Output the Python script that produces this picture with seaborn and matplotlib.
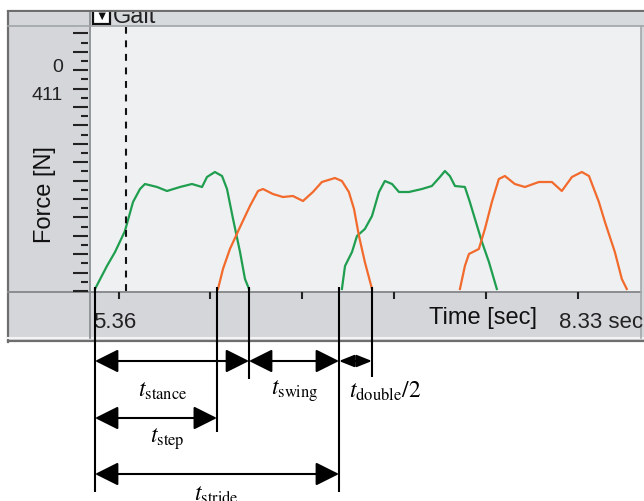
import matplotlib
matplotlib.use("Agg")
import pandas as pd
import matplotlib.pyplot as plt
from matplotlib.patches import Rectangle
from matplotlib.ticker import MultipleLocator
import seaborn as sns


# ── DATA ─────────────────────────────────────────────────────
# vertical ground reaction force
# time in seconds, force in N (one series per foot contact)
left1_time = [5.371, 5.436, 5.480, 5.534, 5.578, 5.616, 5.643, 5.709, 5.763, 5.834,
              5.899, 5.954, 5.981, 6.024, 6.063, 6.090, 6.123, 6.161, 6.188, 6.210]
left1_force = [8, 100, 156, 240, 356, 408, 428, 416, 400, 416,
               428, 416, 456, 476, 460, 408, 288, 156, 48, 8]

right1_time = [6.041, 6.068, 6.106, 6.161, 6.215, 6.259, 6.286, 6.340, 6.395, 6.449,
               6.504, 6.558, 6.607, 6.678, 6.716, 6.754, 6.782, 6.809, 6.841, 6.880]
right1_force = [8, 88, 168, 256, 340, 400, 408, 388, 376, 380,
                360, 396, 436, 452, 440, 396, 328, 220, 116, 8]

left2_time = [6.716, 6.733, 6.771, 6.798, 6.841, 6.880, 6.918, 6.950, 6.989, 7.027,
              7.081, 7.152, 7.206, 7.250, 7.277, 7.304, 7.332, 7.386, 7.413, 7.441,
              7.479, 7.517, 7.560]
left2_force = [8, 100, 156, 220, 248, 300, 396, 440, 428, 396,
               396, 408, 420, 456, 480, 460, 420, 416, 356, 288,
               196, 116, 8]

right2_time = [7.359, 7.386, 7.408, 7.462, 7.495, 7.533, 7.571, 7.604, 7.658, 7.713,
               7.789, 7.860, 7.914, 7.969, 8.023, 8.062, 8.116, 8.149, 8.203, 8.241,
               8.268]
right2_force = [8, 100, 148, 168, 248, 356, 448, 460, 428, 416,
                436, 436, 400, 456, 476, 460, 356, 276, 156, 48,
                8]

# gait events (s): heel strike, opposite heel strike, toe off,
# next heel strike, opposite toe off
event_times = [5.371, 6.035, 6.210, 6.700, 6.880]
cursor_time = 5.540

x_ticks = [5.5, 6.0, 6.5, 7.0, 7.5, 8.0]
y_tick_labels = ["0", "411"]
time_first, time_last = "5.36", "8.33 sec"

interval_labels = [r"$t_{\mathrm{stance}}$", r"$t_{\mathrm{swing}}$",
                   r"$t_{\mathrm{double}}/2$", r"$t_{\mathrm{step}}$",
                   r"$t_{\mathrm{stride}}$"]
# start / end event index of each interval
interval_events = [(0, 2), (2, 3), (3, 4), (0, 1), (0, 3)]


# ── BUILD TABLE FOR SEABORN ──────────────────────────────────
parts = []
for name, foot, t, f in [("L1", "left", left1_time, left1_force),
                         ("R1", "right", right1_time, right1_force),
                         ("L2", "left", left2_time, left2_force),
                         ("R2", "right", right2_time, right2_force)]:
    parts.append(pd.DataFrame({"time": t, "force": f, "foot": foot, "contact": name}))
df = pd.concat(parts, ignore_index=True)


# ── LAYOUT HELPERS ───────────────────────────────────────────
W, H = 644, 502


def px_rect(l, t, r, b):
    # pixel box (left, top, right, bottom) -> figure fraction
    return [l / W, 1 - b / H, (r - l) / W, (b - t) / H]


plt.rcParams["mathtext.fontset"] = "stix"
plt.rcParams["font.family"] = ["Liberation Sans", "DejaVu Sans"]

fig = plt.figure(figsize=(6.44, 5.02), dpi=100)
xlim = (5.36, 8.34)
ylim = (0, 1056)

panel = "#D4D6DA"
plot_bg = "#EEF0F2"
edge = "#6E6E6E"

# screenshot frame drawn in pixel units
frame = fig.add_axes(px_rect(0, 0, W, H), zorder=0)
frame.set_xlim(0, W)
frame.set_ylim(H, 0)
frame.axis("off")
frame.add_patch(Rectangle((8, 12), 636, 331, facecolor=panel, edgecolor="none"))
frame.add_patch(Rectangle((90, 12), 554, 15, facecolor="#D7DADD", edgecolor="none"))
frame.add_patch(Rectangle((91, 27), 550, 265, facecolor=plot_bg, edgecolor="none"))
frame.plot([8, 8], [12, 343], color=edge, lw=1.6)
frame.plot([8, 644], [339, 339], color="#F4F4F4", lw=1.5)
frame.plot([8, 644], [342, 342], color=edge, lw=1.6)
frame.plot([90, 90], [12, 339], color="#8F9295", lw=1.3)
frame.plot([8, 644], [27, 27], color="#A2A5A8", lw=1.2)
frame.plot([8, 641], [292.5, 292.5], color="#8A8D90", lw=1.4)
frame.plot([641, 641], [27, 339], color="#A5A8AB", lw=1.2)
frame.text(63, 68, y_tick_labels[0], ha="right", va="center", fontsize=14, color="#222222")
frame.text(63, 95, y_tick_labels[1], ha="right", va="center", fontsize=14, color="#222222")
frame.text(45, 195, "Force [N]", rotation=90, ha="center", va="center",
           fontsize=17, color="#111111")

# "Gait" selector, cut by the window edge
frame.add_patch(Rectangle((93, 4), 17, 21, facecolor="white", edgecolor="#111111", lw=1.6))
frame.text(101.5, 16.5, "▼", ha="center", va="center", fontsize=9, color="#111111")
frame.text(113, 23, "Gait", ha="left", va="baseline", fontsize=17, color="#222222")

# white mask above the window edge
mask = fig.add_axes(px_rect(0, 0, W, 13), zorder=10)
mask.set_xlim(0, W)
mask.set_ylim(13, 0)
mask.axis("off")
mask.add_patch(Rectangle((0, 0), W, 12, facecolor="white", edgecolor="none"))
mask.plot([8, 644], [12, 12], color=edge, lw=1.6)

# main force plot
ax = fig.add_axes(px_rect(93, 28, 640, 292), zorder=2)
ax.set_facecolor(plot_bg)
sns.lineplot(data=df, x="time", y="force", hue="foot", units="contact",
             estimator=None, sort=False, legend=False, linewidth=1.6,
             palette={"left": "#1F9E4F", "right": "#F26A2C"}, ax=ax)
ax.axvline(cursor_time, color="#111111", lw=1.5, dashes=(3.3, 3.2))
ax.set_xlim(*xlim)
ax.set_ylim(*ylim)
ax.set_xlabel("")
ax.set_ylabel("")
ax.set_xticks([])
ax.set_yticks([])
for s in ax.spines.values():
    s.set_visible(False)

# left tick ruler
ax_l = fig.add_axes(px_rect(8, 28, 88, 292), zorder=2)
ax_l.set_ylim(*ylim)
ax_l.patch.set_visible(False)
for s in ax_l.spines.values():
    s.set_visible(False)
ax_l.set_xticks([])
ax_l.yaxis.tick_right()
ax_l.yaxis.set_major_locator(MultipleLocator(73.6))
ax_l.yaxis.set_minor_locator(MultipleLocator(36.8))
ax_l.tick_params(axis="y", which="major", direction="in", length=11, width=1.5,
                 color="#222222", labelright=False)
ax_l.tick_params(axis="y", which="minor", direction="in", length=5, width=1.5,
                 color="#222222")

# bottom time strip
ax_b = fig.add_axes(px_rect(93, 293, 640, 337), zorder=2)
ax_b.set_xlim(*xlim)
ax_b.set_ylim(0, 1)
ax_b.patch.set_visible(False)
for s in ax_b.spines.values():
    s.set_visible(False)
ax_b.set_yticks([])
ax_b.set_xticks(x_ticks)
ax_b.xaxis.tick_top()
ax_b.tick_params(axis="x", direction="in", length=5, width=1.5, color="#222222",
                 labeltop=False, labelbottom=False)
ax_b.text(0.0, 0.32, time_first, transform=ax_b.transAxes, ha="left", va="center",
          fontsize=16, color="#222222")
ax_b.text(0.713, 0.44, "Time [sec]", transform=ax_b.transAxes, ha="center", va="center",
          fontsize=17, color="#111111")
ax_b.text(1.006, 0.32, time_last, transform=ax_b.transAxes, ha="right", va="center",
          fontsize=16, color="#222222", clip_on=False)

# gait phase annotation below the screenshot
ax_a = fig.add_axes(px_rect(93, 280, 640, 502), zorder=6)
ax_a.set_xlim(*xlim)
ax_a.set_ylim(502, 280)
ax_a.axis("off")

line_bottoms = [493, 433, 380, 493, 378]
ax_a.vlines(event_times, 288, line_bottoms, colors="black", lw=1.5)

arrow_rows = [362, 362, 362, 419, 475]
label_pos = [(5.741, 391, "center"), (6.460, 391, "center"), (6.755, 391, "left"),
             (5.763, 439, "center"), (6.035, 495, "center")]
for (i0, i1), yrow, lab, (lx, ly, ha) in zip(interval_events, arrow_rows,
                                              interval_labels, label_pos):
    small = (i0, i1) == (3, 4)
    style = ("<|-|>,head_length=0.4,head_width=0.16" if small
             else "<|-|>,head_length=0.4,head_width=0.2")
    ax_a.annotate("", xy=(event_times[i1], yrow), xytext=(event_times[i0], yrow),
                  arrowprops=dict(arrowstyle=style, mutation_scale=23 if small else 36,
                                  lw=1.5, color="black", shrinkA=0, shrinkB=0))
    ax_a.text(lx, ly, lab, ha=ha, va="center", fontsize=17, color="black")

fig.savefig("out.png", dpi=100)
